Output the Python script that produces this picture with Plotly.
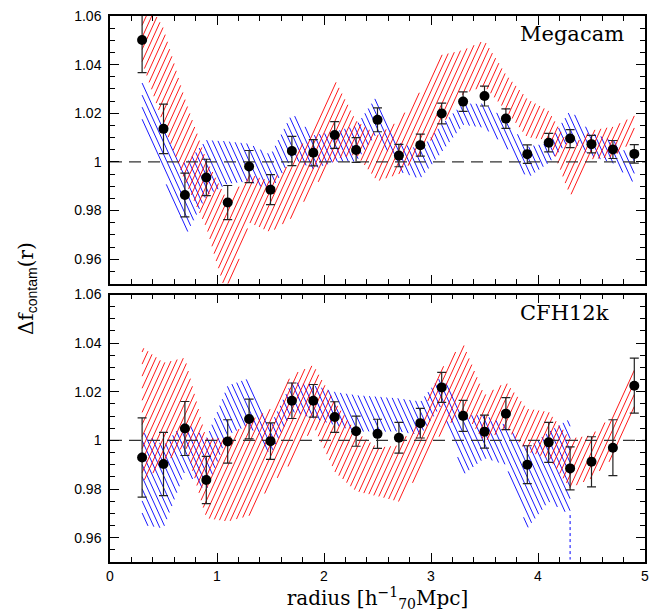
import numpy as np
import plotly.graph_objects as go

# ---------------- data ----------------
radius = [0.3, 0.5, 0.7, 0.9, 1.1, 1.3, 1.5, 1.7, 1.9, 2.1, 2.3, 2.5,
          2.7, 2.9, 3.1, 3.3, 3.5, 3.7, 3.9, 4.1, 4.3, 4.5, 4.7, 4.9]

# Megacam (top panel)
meg_val = [1.0501, 1.0136, 0.9864, 0.9936, 0.9833, 0.9981, 0.9886, 1.0045,
           1.0038, 1.0111, 1.0049, 1.0173, 1.0026, 1.0069, 1.0199, 1.0248,
           1.0271, 1.0178, 1.0032, 1.0079, 1.0096, 1.0073, 1.0051, 1.0033]
meg_err = [0.0134, 0.0102, 0.0090, 0.0075, 0.0070, 0.0066, 0.0062, 0.0060,
           0.0054, 0.0055, 0.0051, 0.0049, 0.0046, 0.0045, 0.0043, 0.0040,
           0.0041, 0.0040, 0.0038, 0.0038, 0.0037, 0.0036, 0.0037, 0.0038]
meg_red_hi = [1.070, 1.055, 1.026, 1.001, 0.984, 0.995, 0.992, 1.000,
              1.015, 1.034, 1.017, 1.011, 1.017, 1.029, 1.044, 1.046,
              1.050, 1.036, 1.026, 1.021, 1.006, 1.013, 1.0145, 1.019]
meg_red_lo = [1.041, 1.015, 0.992, 0.973, 0.943, 0.975, 0.971, 0.977,
              0.989, 1.001, 1.003, 0.992, 0.995, 1.003, 1.015, 1.028,
              1.031, 1.021, 1.010, 1.009, 0.986, 1.001, 1.002, 1.009]
meg_blue_hi = [1.037, 1.014, 0.999, 1.009, 1.0085, 1.0075, 1.003, 1.020,
               1.011, 1.0125, 1.015, 1.0275, 1.008, 1.005, 1.0155, 1.024,
               1.024, 1.0173, 1.0063, 1.0077, 1.0214, 1.0118, 1.009, 1.0008]
meg_blue_lo = [1.015, 0.994, 0.969, 0.986, 0.991, 0.992, 0.988, 1.0015,
               0.997, 1.000, 1.000, 1.012, 0.996, 0.993, 1.004, 1.0152,
               1.014, 1.0063, 0.9933, 0.9995, 1.009, 1.0022, 0.9995, 0.9912]

# CFH12k (bottom panel)
cfh_val = [0.9930, 0.9903, 1.0049, 0.9837, 0.9996, 1.0088, 0.9997, 1.0163,
           1.0163, 1.0096, 1.0038, 1.0027, 1.0011, 1.0071, 1.0218, 1.0101,
           1.0036, 1.0110, 0.9900, 0.9992, 0.9885, 0.9912, 0.9970, 1.0225]
cfh_err = [0.0163, 0.0130, 0.0111, 0.0097, 0.0089, 0.0082, 0.0075, 0.0073,
           0.0067, 0.0063, 0.0062, 0.0060, 0.0063, 0.0061, 0.0062, 0.0064,
           0.0068, 0.0066, 0.0078, 0.0082, 0.0088, 0.0103, 0.0115, 0.0113]
cfh_red_hi = [1.0385, 1.032, 1.034, 1.001, 1.001, 1.008, 1.013, 1.027,
              1.031, 1.016, 1.0036, 0.997, 0.998, 1.009, 1.0296, 1.040,
              1.0186, 1.024, 1.013, 1.0118, 1.0008, 1.0022, 1.0104, 1.031]
cfh_red_lo = [0.983, 0.990, 0.998, 0.968, 0.9666, 0.969, 0.9816, 0.991,
              1.006, 0.987, 0.979, 0.977, 0.9748, 0.987, 1.0036, 1.012,
              0.9995, 1.005, 0.9953, 0.9926, 0.9803, 0.9844, 0.9926, 1.009]
cfh_blue_r = [0.3, 0.5, 0.7, 0.9, 1.1, 1.3, 1.5, 1.7, 1.9, 2.1, 2.3, 2.5,
              2.7, 2.9, 3.1, 3.3, 3.5, 3.7, 3.9, 4.1, 4.3]
cfh_blue_hi = [1.0036, 0.998, 1.0077, 1.0008, 1.0227, 1.0255, 1.0063, 1.0241,
               1.0227, 1.020, 1.0186, 1.018, 1.0173, 1.016, 1.0268, 1.0104,
               1.0104, 1.0063, 0.9967, 1.0036, 1.009]
cfh_blue_lo = [0.9652, 0.9638, 0.987, 0.979, 1.0022, 1.0063, 0.994, 1.0118,
               1.009, 1.0063, 1.0036, 1.0036, 1.0036, 1.0022, 1.0145, 0.9858,
               0.9926, 0.990, 0.9638, 0.9748, 0.9693]
cfh_blue_tail_r = [4.3, 4.3]
cfh_blue_tail = [0.9693, 0.951]

panel_labels = ["Megacam", "CFH12k"]
x_ticks = [0, 1, 2, 3, 4, 5]
y_ticks = [0.96, 0.98, 1.00, 1.02, 1.04, 1.06]
y_ticktext = ["0.96", "0.98", "1", "1.02", "1.04", "1.06"]

X_RANGE = [0, 5]
Y_RANGE = [0.95, 1.06]

RED = "#ff0000"
BLUE = "#0000ff"

# ---------------- geometry of the page ----------------
FIG_W, FIG_H = 651, 607          # page adds an 8px body margin
M_L, M_R, M_T, M_B = 102, 14, 8, 53
PLOT_W = FIG_W - M_L - M_R
PANEL_H = 267.5
px_per_x = PLOT_W / (X_RANGE[1] - X_RANGE[0])
px_per_y = PANEL_H / (Y_RANGE[1] - Y_RANGE[0])

# hatch: lines at ~65 deg, ~5.5 px apart horizontally
HATCH_ANGLE = np.radians(65.5)
HATCH_GAP_PX = 5.5
k_slope = np.tan(HATCH_ANGLE) * px_per_x / px_per_y   # data units
dc = k_slope * HATCH_GAP_PX / px_per_x

fig = go.Figure()


def hatch(xs, hi, lo, color, sign, xa, ya):
    """Hatch the band between lo(x) and hi(x) with parallel lines."""
    xs = np.asarray(xs, float)
    hi = np.asarray(hi, float)
    lo = np.asarray(lo, float)
    xf = np.arange(xs[0], xs[-1] + 1e-9, 0.001)
    hif = np.interp(xf, xs, hi)
    lof = np.interp(xf, xs, lo)
    kk = sign * k_slope
    cmin = np.min(lof - kk * xf)
    cmax = np.max(hif - kk * xf)
    px, py = [], []
    for c in np.arange(cmin, cmax, dc):
        yline = c + kk * xf
        inside = (yline >= lof) & (yline <= hif)
        if not inside.any():
            continue
        d = np.diff(np.concatenate(([0], inside.astype(int), [0])))
        starts = np.where(d == 1)[0]
        ends = np.where(d == -1)[0] - 1
        for i0, i1 in zip(starts, ends):
            if i1 - i0 < 2:
                continue
            px += [xf[i0], xf[i1], None]
            py += [yline[i0], yline[i1], None]
    fig.add_trace(go.Scatter(
        x=px, y=py, mode="lines", line=dict(color=color, width=0.9),
        connectgaps=False, xaxis=xa, yaxis=ya, hoverinfo="skip",
        showlegend=False))


def points(vals, errs, xa, ya):
    fig.add_trace(go.Scatter(
        x=radius, y=vals, mode="markers",
        marker=dict(color="black", size=10),
        error_y=dict(type="data", array=errs, color="#222222",
                     thickness=1.2, width=4.5),
        xaxis=xa, yaxis=ya, showlegend=False))


def unity(xa, ya):
    fig.add_trace(go.Scatter(
        x=X_RANGE, y=[1, 1], mode="lines",
        line=dict(color="#333333", width=1.1, dash="12px,7px"),
        xaxis=xa, yaxis=ya, hoverinfo="skip", showlegend=False))


# top panel (Megacam): xaxis2 / yaxis2
hatch(radius, meg_blue_hi, meg_blue_lo, BLUE, -1, "x2", "y2")
hatch(radius, meg_red_hi, meg_red_lo, RED, +1, "x2", "y2")
unity("x2", "y2")
points(meg_val, meg_err, "x2", "y2")

# bottom panel (CFH12k): xaxis / yaxis
hatch(cfh_blue_r, cfh_blue_hi, cfh_blue_lo, BLUE, -1, "x", "y")
fig.add_trace(go.Scatter(x=cfh_blue_tail_r, y=cfh_blue_tail, mode="lines",
                         line=dict(color=BLUE, width=1, dash="dot"),
                         hoverinfo="skip", showlegend=False))
hatch(radius, cfh_red_hi, cfh_red_lo, RED, +1, "x", "y")
unity("x", "y")
points(cfh_val, cfh_err, "x", "y")

SANS = "Liberation Sans, Arial, sans-serif"
SERIF = "DejaVu Serif, serif"

common_x = dict(range=X_RANGE, showline=True, linecolor="black", linewidth=1.5,
                mirror="ticks", ticks="inside", ticklen=9, tickwidth=1,
                tickcolor="black", tickvals=x_ticks, showgrid=False,
                zeroline=False, automargin=False,
                minor=dict(dtick=0.2, tick0=0, ticks="inside", ticklen=5,
                           tickwidth=1, tickcolor="black", showgrid=False),
                tickfont=dict(family=SANS, size=14, color="black"))
common_y = dict(range=Y_RANGE, showline=True, linecolor="black",
                linewidth=1.5, mirror="ticks", ticks="inside", ticklen=9,
                tickwidth=1, tickcolor="black", tickvals=y_ticks,
                ticktext=y_ticktext, showgrid=False, zeroline=False,
                automargin=False, ticklabeloverflow="allow",
                minor=dict(dtick=0.005, tick0=0.95, ticks="inside", ticklen=5,
                           tickwidth=1, tickcolor="black", showgrid=False),
                tickfont=dict(family=SANS, size=14, color="black"),
                ticklabelstandoff=4)

plot_h = FIG_H - M_T - M_B
fig.update_layout(
    width=FIG_W, height=FIG_H,
    margin=dict(l=M_L, r=M_R, t=M_T, b=M_B),
    paper_bgcolor="white", plot_bgcolor="white",
    showlegend=False,
    xaxis=dict(common_x, anchor="y", domain=[0, 1],
               ticklabelstandoff=0,
               title=dict(text="radius [h<sup>−1</sup><sub>70</sub>Mpc]",
                          font=dict(family=SERIF, size=20, color="black"),
                          standoff=2)),
    yaxis=dict(common_y, anchor="x", domain=[0, PANEL_H / plot_h]),
    xaxis2=dict(common_x, anchor="y2", domain=[0, 1], showticklabels=False,
                matches="x"),
    yaxis2=dict(common_y, anchor="x2", domain=[1 - PANEL_H / plot_h, 1]),
    annotations=[
        dict(text=panel_labels[0], x=3.81, y=1.0528, xref="x2", yref="y2",
             xanchor="left", yanchor="middle", showarrow=False,
             font=dict(family=SERIF, size=21, color="black")),
        dict(text=panel_labels[1], x=3.81, y=1.0525, xref="x", yref="y",
             xanchor="left", yanchor="middle", showarrow=False,
             font=dict(family=SERIF, size=21, color="black")),
        dict(text="Δf<sub><span style='font-family:Liberation Sans'>contam</span></sub>(r)",
             x=-0.155, y=0.5, xref="paper", yref="paper",
             xanchor="center", yanchor="middle", textangle=-90,
             showarrow=False,
             font=dict(family=SERIF, size=20, color="black")),
    ],
)

fig.write_html("out.html")
